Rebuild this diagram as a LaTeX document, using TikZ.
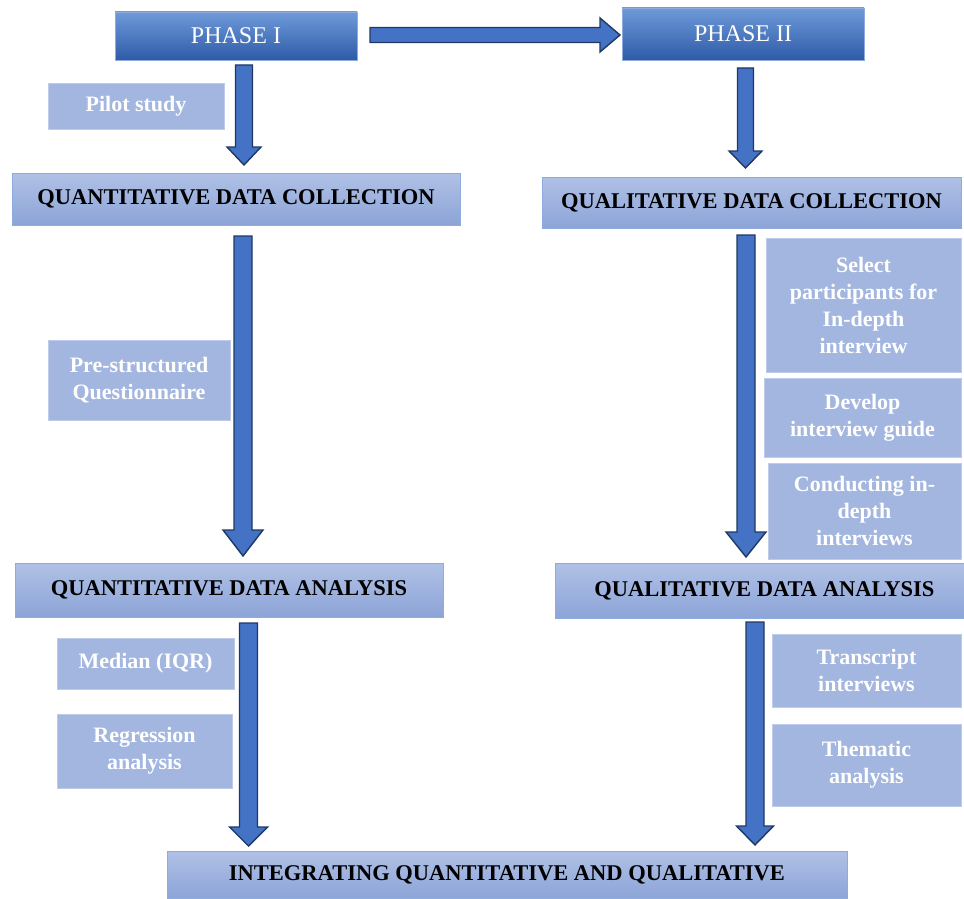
\documentclass[tikz,border=0pt]{standalone}
\usepackage{fontspec}
\setmainfont{Liberation Serif}
\usetikzlibrary{calc}
\definecolor{arrfill}{HTML}{4472C4}
\definecolor{arrline}{HTML}{1F3864}
\definecolor{phtop}{HTML}{6F9AD9}
\definecolor{phbot}{HTML}{2E5BA8}
\definecolor{hdtop}{HTML}{B0C1E6}
\definecolor{hdbot}{HTML}{8CA4D7}
\definecolor{hdline}{HTML}{8FAADC}
\definecolor{subfill}{HTML}{A3B6DF}
\tikzset{
  phasebox/.style={draw=hdline, line width=0.8pt, top color=phtop, bottom color=phbot,
    text=white, font=\fontsize{24}{28}\selectfont, inner sep=0pt, outer sep=0pt},
  headbox/.style={draw=hdline, line width=0.8pt, top color=hdtop, bottom color=hdbot,
    text=black, font=\fontsize{22.5}{27}\selectfont\bfseries, inner sep=0pt, outer sep=0pt},
  subbox/.style={fill=subfill, draw=subfill!70!white, line width=0.6pt, text=white,
    font=\fontsize{22}{27}\selectfont\bfseries, align=center, inner sep=0pt, outer sep=0pt},
  blockarr/.style={fill=arrfill, draw=arrline, line width=1.4pt, line join=miter}
}
% down block arrow: #1 start, #2 end, #3 shaft half width, #4 head half width, #5 head length
\newcommand\downarrowblock[5]{%
  \path[blockarr] let \p1=(#1), \p2=(#2) in
    (\x1-#3pt,\y1) -- (\x1+#3pt,\y1) -- (\x1+#3pt,\y2+#5pt) -- (\x1+#4pt,\y2+#5pt)
    -- (\x1,\y2) -- (\x1-#4pt,\y2+#5pt) -- (\x1-#3pt,\y2+#5pt) -- cycle;}
\newcommand\rightarrowblock[5]{%
  \path[blockarr] let \p1=(#1), \p2=(#2) in
    (\x1,\y1+#3pt) -- (\x1,\y1-#3pt) -- (\x2-#5pt,\y1-#3pt) -- (\x2-#5pt,\y1-#4pt)
    -- (\x2,\y1) -- (\x2-#5pt,\y1+#4pt) -- (\x2-#5pt,\y1+#3pt) -- cycle;}
\begin{document}
\begin{tikzpicture}[x=1pt,y=-1pt]
\useasboundingbox (0,0) rectangle (964,899);
% header and phase nodes
\node[phasebox, minimum width=242, minimum height=48] (p1) at (236,36) {PHASE I};
\node[phasebox, minimum width=242, minimum height=52] (p2) at (743,34) {PHASE II};
\node[headbox, minimum width=448, minimum height=52] (qc) at (236,199) {QUANTITATIVE DATA COLLECTION};
\node[headbox, minimum width=419, minimum height=51] (qlc) at (751.5,202.5) {QUALITATIVE DATA COLLECTION};
\node[headbox, minimum width=428, minimum height=54] (qa) at (229,590) {QUANTITATIVE DATA ANALYSIS};
\node[headbox, minimum width=409, minimum height=55] (qla) at (759.5,590.5) {\hspace*{10pt}QUALITATIVE DATA ANALYSIS};
\node[headbox, minimum width=680, minimum height=47] (int) at (507,874.5) {INTEGRATING QUANTITATIVE AND QUALITATIVE};
% sub nodes
\node[subbox, minimum width=176, minimum height=46] (pilot) at (136,106) {Pilot study};
\node[subbox, minimum width=182, minimum height=80] (pre) at (139,380) {Pre-structured\\Questionnaire};
\node[subbox, minimum width=177, minimum height=51] (med) at (145.5,663.5) {Median (IQR)};
\node[subbox, minimum width=175, minimum height=74] (reg) at (144.5,751) {Regression\\analysis};
\node[subbox, minimum width=195, minimum height=134] (sel) at (863.5,305) {Select\\participants for\\In-depth\\interview};
\node[subbox, minimum width=197, minimum height=79] (dev) at (862.5,417.5) {Develop\\interview guide};
\node[subbox, minimum width=193, minimum height=96] (con) at (864.5,511) {Conducting in-\\depth\\interviews};
\node[subbox, minimum width=189, minimum height=73] (tra) at (866.5,670.5) {Transcript\\interviews};
\node[subbox, minimum width=189, minimum height=82] (the) at (866.5,765) {Thematic\\analysis};
% arrows
\rightarrowblock{$(p1.east)+(13,-1)$}{$(p2.west)+(-2,1)$}{7.5}{17}{20}
\downarrowblock{$(p1.south)+(8,5)$}{$(qc.north)+(8,-8)$}{8.5}{17}{18}
\downarrowblock{$(p2.south)+(2.5,8)$}{$(qlc.north)+(2.5,-9)$}{8}{16.5}{17}
\downarrowblock{$(qc.south)+(7,11)$}{$(qa.north)+(14,-7)$}{9}{20}{26}
\downarrowblock{$(qlc.south)+(-5.5,7)$}{$(qla.north)+(-13,-6)$}{9}{20}{25}
\downarrowblock{$(qa.south)+(19.5,6)$}{$(int.north)+(-258,-5)$}{9}{19}{19}
\downarrowblock{$(qla.south)+(-4.5,4)$}{$(int.north)+(248,-6)$}{9}{18.5}{19}
\end{tikzpicture}
\end{document}
